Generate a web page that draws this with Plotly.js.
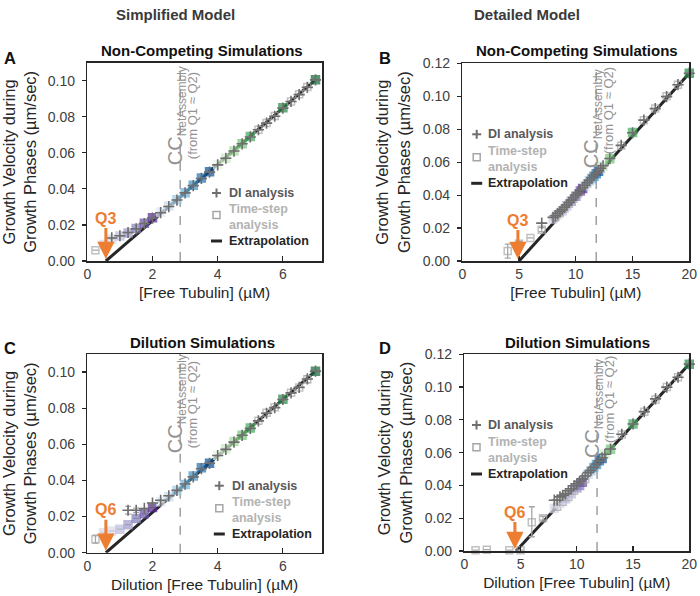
<!DOCTYPE html>
<html><head><meta charset="utf-8">
<script src="https://cdn.plot.ly/plotly-3.0.1.min.js"></script>
<style>html,body{margin:0;padding:0;background:#fff}</style>
</head><body><div id="chart" style="width:700px;height:596px"></div>
<script>
// ---------- Panel A : Simplified model, non-competing ----------
const A_ts_conc = [0.25,0.5,0.75,1.0,1.25,1.5,1.75,2.0,2.25,2.5,2.75,3.0,3.25,3.5,3.75,4.0,4.25,4.5,4.75,5.0,5.25,5.5,5.75,6.0,6.25,6.5,6.75,7.0];
const A_ts_vel  = [0.0060,0.0092,0.0122,0.0138,0.0155,0.0180,0.0210,0.0240,0.0270,0.0305,0.0340,0.0378,0.0420,0.0460,0.0495,0.0535,0.0570,0.0610,0.0650,0.0690,0.0728,0.0765,0.0805,0.0850,0.0885,0.0925,0.0965,0.1005];
const A_ts_err  = A_ts_conc.map(() => null);
const A_ts_group = ['','p1','p1','p2','p3','p4','p5','p6','b1','b2','b3','b4','b5','b6','b7','g1','g2','g3','g4','g5','','','','g6','','','','g7'];
const A_di_conc = [0.75,1.0,1.25,1.5,1.75,2.0,2.25,2.5,2.75,3.0,3.25,3.5,3.75,4.0,4.25,4.5,4.75,5.0,5.25,5.5,5.75,6.0,6.25,6.5,6.75,7.0];
const A_di_vel  = [0.0128,0.0140,0.0158,0.0178,0.0208,0.0238,0.0268,0.0302,0.0338,0.0378,0.0418,0.0458,0.0493,0.0533,0.0570,0.0610,0.0650,0.0688,0.0728,0.0765,0.0803,0.0848,0.0885,0.0923,0.0963,0.1005];
const A_di_err  = A_di_conc.map(() => null);
const A_ext_x = [0.57, 7.0], A_ext_y = [0, 0.1005];
const A_cc = 2.85, A_q = 0.57, A_qlabel = 'Q3';

// ---------- Panel B : Detailed model, non-competing ----------
const B_ts_conc = [4,5,6,7,8.0,8.2,8.4,8.6,8.8,9.0,9.2,9.4,9.6,9.8,10.0,10.2,10.4,10.6,10.8,11.0,11.2,11.4,11.6,11.8,12.0,12.2,12.4,13,14,15,16,17,18,19,20];
const B_ts_vel  = [0.0060,0.0105,0.0140,0.0190,0.0255,0.0265,0.0280,0.0292,0.0305,0.0318,0.0335,0.0348,0.0363,0.0378,0.0393,0.0410,0.0425,0.0440,0.0455,0.0470,0.0487,0.0500,0.0515,0.0530,0.0545,0.0558,0.0575,0.0620,0.0700,0.0780,0.0855,0.0925,0.1000,0.1070,0.1140];
const B_ts_err  = [0.0042,0.0012,null,0.0012].concat(B_ts_conc.slice(4).map(() => null));
const B_ts_group = ['','','','','p1','','p1','','p2','','p2','','p3','','p4','','p5','p6','b2','','b3','b4','b5','b6','b7','','g2','g4','','g5','','','','','g6'];
const B_di_conc = [7.0,8.0,8.2,8.4,8.6,8.8,9.0,9.2,9.4,9.6,9.8,10.0,10.2,10.4,10.6,10.8,11.0,11.2,11.4,11.6,11.8,12.0,12.2,12.4,13,14,15,16,17,18,19,20];
const B_di_vel  = [0.0230,0.0265,0.0275,0.0288,0.0300,0.0312,0.0326,0.0340,0.0355,0.0370,0.0385,0.0400,0.0415,0.0430,0.0445,0.0460,0.0476,0.0490,0.0505,0.0520,0.0535,0.0550,0.0563,0.0578,0.0622,0.0702,0.0778,0.0855,0.0925,0.0998,0.1070,0.1140];
const B_di_err  = B_di_conc.map(() => null);
const B_ext_x = [5.0, 20], B_ext_y = [0, 0.114];
const B_cc = 11.8, B_q = 4.9, B_qlabel = 'Q3';

// ---------- Panel C : Simplified model, dilution ----------
const C_ts_conc = [0.25,0.5,0.75,1.0,1.25,1.5,1.75,2.0,2.25,2.5,2.75,3.0,3.25,3.5,3.75,4.0,4.25,4.5,4.75,5.0,5.25,5.5,5.75,6.0,6.25,6.5,6.75,7.0];
const C_ts_vel  = [0.0075,0.0110,0.0120,0.0130,0.0155,0.0190,0.0215,0.0250,0.0282,0.0310,0.0345,0.0378,0.0425,0.0470,0.0495,0.0540,0.0575,0.0615,0.0650,0.0690,0.0730,0.0775,0.0805,0.0850,0.0885,0.0915,0.0960,0.1005];
const C_ts_err  = [0.0022].concat(C_ts_conc.slice(1,26).map(() => null)).concat([0.0020, null]);
const C_ts_group = ['','p1','p1','p2','p3','p4','p5','p6','b1','b2','b3','b4','b5','b6','b7','g1','g2','g3','g4','g5','','','','g6','','','','g7'];
const C_di_conc = [1.25,1.5,1.75,2.0,2.25,2.5,2.75,3.0,3.25,3.5,3.75,4.0,4.25,4.5,4.75,5.0,5.25,5.5,5.75,6.0,6.25,6.5,6.75,7.0];
const C_di_vel  = [0.0235,0.0235,0.0245,0.0275,0.0290,0.0315,0.0345,0.0380,0.0420,0.0465,0.0495,0.0538,0.0572,0.0612,0.0650,0.0688,0.0730,0.0772,0.0803,0.0848,0.0885,0.0915,0.0962,0.1005];
const C_di_err  = [0.0022,0.0012].concat(C_di_conc.slice(2).map(() => null));
const C_ext_x = [0.57, 7.0], C_ext_y = [0, 0.1005];
const C_cc = 2.85, C_q = 0.57, C_qlabel = 'Q6';

// ---------- Panel D : Detailed model, dilution ----------
const D_ts_conc = [1,2,4,5,6,7,8.0,8.25,8.5,8.75,9.0,9.25,9.5,9.75,10.0,10.25,10.5,10.75,11.0,11.25,11.5,11.75,12.0,12.25,12.5,13,14,15,16,17,18,19,20];
const D_ts_vel  = [0.0005,0.0008,0.0005,0.0005,0.0175,0.0200,0.0260,0.0270,0.0290,0.0300,0.0318,0.0330,0.0350,0.0368,0.0385,0.0400,0.0420,0.0440,0.0470,0.0490,0.0510,0.0528,0.0550,0.0565,0.0590,0.0620,0.0710,0.0775,0.0850,0.0925,0.1000,0.1060,0.1140];
const D_ts_err  = [null,null,null,null,0.0095,0.0012].concat(D_ts_conc.slice(6).map(() => null));
const D_ts_errm = [null,null,null,null,0.0088,0.0012].concat(D_ts_conc.slice(6).map(() => null));
const D_ts_group = ['','','','','','','p1','','p1','','p2','','p2','','p3','p4','p5','','b2','b3','b4','b5','b6','b7','g2','g4','','g5','','','','','g6'];
const D_di_conc = [8.0,8.25,8.5,8.75,9.0,9.25,9.5,9.75,10.0,10.25,10.5,10.75,11.0,11.25,11.5,11.75,12.0,12.25,12.5,13,14,15,16,17,18,19,20];
const D_di_vel  = [0.0310,0.0310,0.0330,0.0340,0.0350,0.0368,0.0380,0.0398,0.0410,0.0425,0.0440,0.0458,0.0478,0.0492,0.0510,0.0530,0.0550,0.0568,0.0590,0.0622,0.0712,0.0775,0.0850,0.0928,0.1000,0.1060,0.1140];
const D_di_err  = D_di_conc.map(() => null);
const D_ext_x = [4.6, 20], D_ext_y = [0, 0.114];
const D_cc = 11.8, D_q = 4.5, D_qlabel = 'Q6';

// ---------- styles ----------
const F = 'Liberation Sans, Arial, Helvetica, sans-serif';
const PAL = {
  p1:'#dadaeb', p2:'#bcbddc', p3:'#9e9ac8', p4:'#807dba', p5:'#6a51a3', p6:'#54278f',
  b1:'#deebf7', b2:'#c6dbef', b3:'#9ecae1', b4:'#6baed6', b5:'#4292c6', b6:'#2171b5', b7:'#08519c',
  g1:'#e5f5e0', g2:'#c7e9c0', g3:'#a1d99b', g4:'#74c476', g5:'#41ab5d', g6:'#238b45', g7:'#116b38'
};
const OPEN = '#a6a6a6', CROSS = '#6e6e6e', ORANGE = '#ED7D31', DARK = '#262626', CCGRAY = '#939393';

const traces = [];
function addPanel(k, tsC, tsV, tsErr, tsErrM, tsG, diC, diV, diErr, extX, extY) {
  const xa = k === 1 ? 'x' : 'x' + k, ya = k === 1 ? 'y' : 'y' + k;
  traces.push({x: extX, y: extY, mode: 'lines', line: {color: DARK, width: 3}, xaxis: xa, yaxis: ya,
    showlegend: false, hoverinfo: 'skip', name: 'Extrapolation'});
  const col = tsG.map(g => g ? PAL[g] : OPEN);
  traces.push({x: tsC, y: tsV, mode: 'markers', xaxis: xa, yaxis: ya, showlegend: false, cliponaxis: false,
    name: 'Time-step analysis',
    marker: {symbol: tsG.map(g => g ? 'square' : 'square-open'), size: tsG.map(g => g ? 8 : 7),
      color: col, line: {width: 1.5, color: col}},
    error_y: {type: 'data', array: tsErr, arrayminus: tsErrM || tsErr, symmetric: !tsErrM,
      color: OPEN, thickness: 1.3, width: 3}});
  traces.push({x: diC, y: diV, mode: 'markers', xaxis: xa, yaxis: ya, showlegend: false, cliponaxis: false,
    name: 'DI analysis',
    marker: {symbol: 'cross-thin', size: 8, color: CROSS, line: {width: 1.6, color: CROSS}},
    error_y: {type: 'data', array: diErr, color: OPEN, thickness: 1.3, width: 3}});
}
addPanel(1, A_ts_conc, A_ts_vel, A_ts_err, null, A_ts_group, A_di_conc, A_di_vel, A_di_err, A_ext_x, A_ext_y);
addPanel(2, B_ts_conc, B_ts_vel, B_ts_err, null, B_ts_group, B_di_conc, B_di_vel, B_di_err, B_ext_x, B_ext_y);
addPanel(3, C_ts_conc, C_ts_vel, C_ts_err, null, C_ts_group, C_di_conc, C_di_vel, C_di_err, C_ext_x, C_ext_y);
addPanel(4, D_ts_conc, D_ts_vel, D_ts_err, D_ts_errm, D_ts_group, D_di_conc, D_di_vel, D_di_err, D_ext_x, D_ext_y);

const W = 700, H = 596;
const px = v => v / W, py = v => 1 - v / H;

function xAxis(domain, range, dtick, anchor, title) {
  return {domain, range, dtick, tick0: 0, anchor, showgrid: false, zeroline: false, showline: true, mirror: true,
    linecolor: DARK, linewidth: 1.5, ticks: 'inside', ticklen: 5, tickcolor: DARK, tickwidth: 1.2,
    tickfont: {family: F, size: 14, color: '#404040'}, automargin: false, fixedrange: true,
    title: {text: title, font: {family: F, size: 15.5, color: DARK}, standoff: 6}};
}
function yAxis(domain, range, anchor) {
  return {domain, range, dtick: 0.02, tick0: 0, tickformat: '.2f', anchor, showgrid: false, zeroline: false,
    showline: true, mirror: true, linecolor: DARK, linewidth: 1.5, ticks: 'outside', ticklen: 4,
    tickcolor: DARK, tickwidth: 1.2, ticklabelstandoff: 4,
    tickfont: {family: F, size: 14, color: '#404040'}, automargin: false, fixedrange: true,
    title: {text: 'Growth Velocity during<br>Growth Phases (µm/sec)', font: {family: F, size: 16.5, color: DARK}, standoff: 8}};
}

const XA = [px(87.3), px(322)], XB = [px(462.3), px(689.3)], XD = [px(464.3), px(689.3)];
const layout = {
  width: W, height: H, margin: {l: 0, r: 0, t: 0, b: 0}, paper_bgcolor: '#fff', plot_bgcolor: '#fff',
  showlegend: false, font: {family: F},
  xaxis:  xAxis(XA, [0, 7.2], 2, 'y', '[Free Tubulin] (µM)'),
  yaxis:  yAxis([py(261), py(62.7)], [0, 0.11], 'x'),
  xaxis2: xAxis(XB, [0, 20], 5, 'y2', '[Free Tubulin] (µM)'),
  yaxis2: yAxis([py(261), py(63.3)], [0, 0.12], 'x2'),
  xaxis3: xAxis(XA, [0, 7.2], 2, 'y3', 'Dilution [Free Tubulin] (µM)'),
  yaxis3: yAxis([py(552.7), py(354)], [0, 0.11], 'x3'),
  xaxis4: xAxis(XD, [0, 20], 5, 'y4', 'Dilution [Free Tubulin] (µM)'),
  yaxis4: yAxis([py(551), py(354.3)], [0, 0.12], 'x4'),
  shapes: [], annotations: []
};

// c1y/c2y: pixel centres of the two rotated CC label lines
const panels = [
  {k: 1, cc: A_cc, q: A_q, ql: A_qlabel, title: 'Non-Competing Simulations', tx: 202, ty: 50, letter: 'A', lx: 2, ly: 58,
   c1y: 116, c2y: 116, qay: -43, leg: {mx: 216.5, tx: 226.5, yDI: 193, ySq: 215, yTS: 216.5, yEx: 241}},
  {k: 2, cc: B_cc, q: B_q, ql: B_qlabel, title: 'Non-Competing Simulations', tx: 577, ty: 50, letter: 'B', lx: 377, ly: 58,
   c1y: 119, c2y: 111, qay: -41, leg: {mx: 476.7, tx: 485.5, yDI: 134.3, ySq: 157.3, yTS: 159, yEx: 183.3}},
  {k: 3, cc: C_cc, q: C_q, ql: C_qlabel, title: 'Dilution Simulations', tx: 202, ty: 342, letter: 'C', lx: 2, ly: 348,
   c1y: 404, c2y: 405, qay: -43, leg: {mx: 219.3, tx: 229.5, yDI: 485.7, ySq: 508.3, yTS: 509.5, yEx: 534}},
  {k: 4, cc: D_cc, q: D_q, ql: D_qlabel, title: 'Dilution Simulations', tx: 577, ty: 342, letter: 'D', lx: 377, ly: 348,
   c1y: 409, c2y: 400, qay: -39, leg: {mx: 476.5, tx: 485.5, yDI: 425, ySq: 447.3, yTS: 449.7, yEx: 474}}
];

function note(x, y, text, size, color, xanchor, extra) {
  return Object.assign({xref: 'paper', yref: 'paper', x: px(x), y: py(y), xanchor: xanchor || 'center', yanchor: 'middle',
    showarrow: false, text, font: {family: F, size, color}}, extra || {});
}

panels.forEach(p => {
  const xr = p.k === 1 ? 'x' : 'x' + p.k, yr = p.k === 1 ? 'y' : 'y' + p.k;
  // CC dashed line and its rotated label
  layout.shapes.push({type: 'line', layer: 'below', xref: xr, yref: yr + ' domain', x0: p.cc, x1: p.cc, y0: 0, y1: 1,
    line: {color: '#a0a0a0', width: 1.5, dash: 'dash'}});
  layout.annotations.push({xref: xr, yref: 'paper', x: p.cc, y: py(p.c1y), xshift: -4, textangle: -90, showarrow: false,
    xanchor: 'center', yanchor: 'middle', font: {family: F, size: 17, color: CCGRAY},
    text: '<span style="font-size:20px">CC</span><sub>NetAssembly</sub>'});
  layout.annotations.push({xref: xr, yref: 'paper', x: p.cc, y: py(p.c2y), xshift: 12, textangle: -90, showarrow: false,
    xanchor: 'center', yanchor: 'middle', font: {family: F, size: 13, color: CCGRAY},
    text: '(from Q1 ≈ Q2)'});
  // Q arrow
  layout.annotations.push({xref: xr, yref: yr, x: p.q, y: 0, ax: 0, ay: p.qay, showarrow: true, arrowhead: 2,
    arrowsize: 1.15, arrowwidth: 3, arrowcolor: ORANGE, standoff: 2,
    text: '<b>' + p.ql + '</b>', font: {family: F, size: 16, color: ORANGE}});
  // panel title & letter
  layout.annotations.push(note(p.tx, p.ty, '<b>' + p.title + '</b>', 15, '#111'));
  layout.annotations.push(note(p.lx, p.ly, '<b>' + p.letter + '</b>', 16.5, '#111', 'left'));
  // legend
  const L = p.leg;
  layout.shapes.push({type: 'line', xref: 'paper', yref: 'paper', x0: px(L.mx - 4.5), x1: px(L.mx + 4.5), y0: py(L.yDI), y1: py(L.yDI), line: {color: CROSS, width: 2}});
  layout.shapes.push({type: 'line', xref: 'paper', yref: 'paper', x0: px(L.mx), x1: px(L.mx), y0: py(L.yDI - 4.5), y1: py(L.yDI + 4.5), line: {color: CROSS, width: 2}});
  layout.shapes.push({type: 'rect', xref: 'paper', yref: 'paper', x0: px(L.mx - 3.5), x1: px(L.mx + 3.5), y0: py(L.ySq - 3.5), y1: py(L.ySq + 3.5), line: {color: OPEN, width: 1.5}});
  layout.shapes.push({type: 'line', xref: 'paper', yref: 'paper', x0: px(L.mx - 5.5), x1: px(L.mx + 5.5), y0: py(L.yEx), y1: py(L.yEx), line: {color: DARK, width: 3}});
  layout.annotations.push(note(L.tx, L.yDI, '<b>DI analysis</b>', 12.5, '#595959', 'left'));
  layout.annotations.push(note(L.tx, L.yTS, '<b>Time-step<br>analysis</b>', 12.5, '#b3b3b3', 'left', {align: 'left'}));
  layout.annotations.push(note(L.tx, L.yEx, '<b>Extrapolation</b>', 12.5, DARK, 'left'));
});

// column titles
layout.annotations.push(note(175, 14, '<b>Simplified Model</b>', 15, '#3a3a3a'));
layout.annotations.push(note(527, 14, '<b>Detailed Model</b>', 15, '#3a3a3a'));

Plotly.newPlot('chart', traces, layout, {displayModeBar: false, staticPlot: true});
</script></body></html>
